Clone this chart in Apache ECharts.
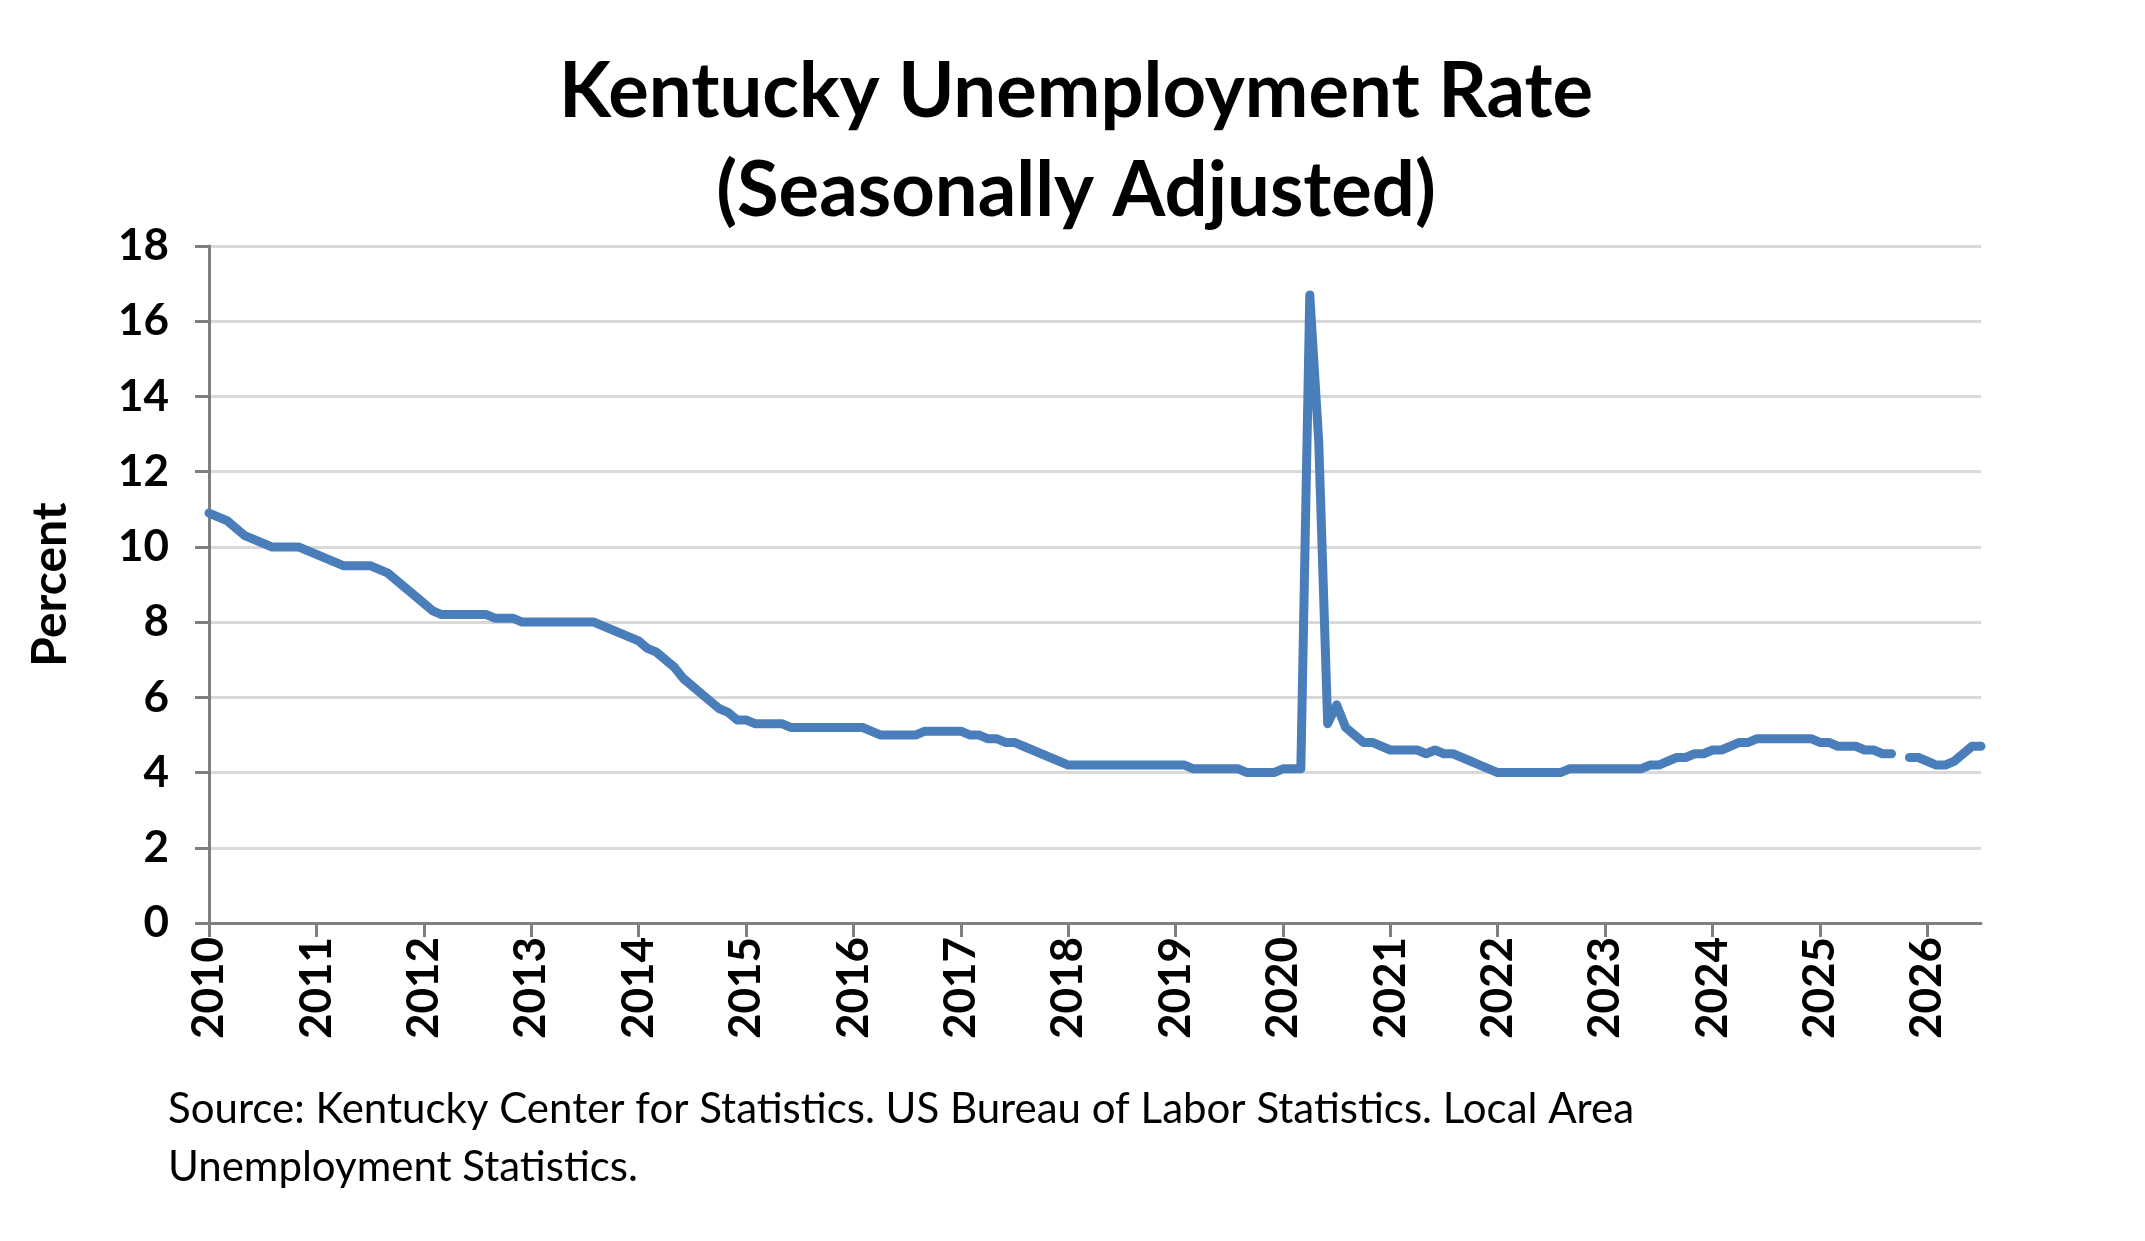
<!DOCTYPE html>
<html><head><meta charset="utf-8">
<script src="https://cdn.jsdelivr.net/npm/echarts@6/dist/echarts.min.js"></script>
<style>html,body{margin:0;background:#fff}#main{width:2145px;height:1241px}</style>
</head><body><div id="main"></div>
<script>
var years = [2010,2011,2012,2013,2014,2015,2016,2017,2018,2019,2020,2021,2022,2023,2024,2025,2026];
var r2010 = [10.9,10.8,10.7,10.5,10.3,10.2,10.1,10.0,10.0,10.0,10.0,9.9];
var r2011 = [9.8,9.7,9.6,9.5,9.5,9.5,9.5,9.4,9.3,9.1,8.9,8.7];
var r2012 = [8.5,8.3,8.2,8.2,8.2,8.2,8.2,8.2,8.1,8.1,8.1,8.0];
var r2013 = [8.0,8.0,8.0,8.0,8.0,8.0,8.0,8.0,7.9,7.8,7.7,7.6];
var r2014 = [7.5,7.3,7.2,7.0,6.8,6.5,6.3,6.1,5.9,5.7,5.6,5.4];
var r2015 = [5.4,5.3,5.3,5.3,5.3,5.2,5.2,5.2,5.2,5.2,5.2,5.2];
var r2016 = [5.2,5.2,5.1,5.0,5.0,5.0,5.0,5.0,5.1,5.1,5.1,5.1];
var r2017 = [5.1,5.0,5.0,4.9,4.9,4.8,4.8,4.7,4.6,4.5,4.4,4.3];
var r2018 = [4.2,4.2,4.2,4.2,4.2,4.2,4.2,4.2,4.2,4.2,4.2,4.2];
var r2019 = [4.2,4.2,4.1,4.1,4.1,4.1,4.1,4.1,4.0,4.0,4.0,4.0];
var r2020 = [4.1,4.1,4.1,16.7,12.8,5.3,5.8,5.2,5.0,4.8,4.8,4.7];
var r2021 = [4.6,4.6,4.6,4.6,4.5,4.6,4.5,4.5,4.4,4.3,4.2,4.1];
var r2022 = [4.0,4.0,4.0,4.0,4.0,4.0,4.0,4.0,4.1,4.1,4.1,4.1];
var r2023 = [4.1,4.1,4.1,4.1,4.1,4.2,4.2,4.3,4.4,4.4,4.5,4.5];
var r2024 = [4.6,4.6,4.7,4.8,4.8,4.9,4.9,4.9,4.9,4.9,4.9,4.9];
var r2025 = [4.8,4.8,4.7,4.7,4.7,4.6,4.6,4.5,4.5,null,4.4,4.4];
var r2026 = [4.3,4.2,4.2,4.3,4.5,4.7,4.7];

var rates = [].concat(r2010,r2011,r2012,r2013,r2014,r2015,r2016,r2017,r2018,r2019,r2020,r2021,r2022,r2023,r2024,r2025,r2026);
var months = [];
for (var i = 0; i < rates.length; i++) {
    months.push(i % 12 === 0 ? String(years[i / 12]) : '');
}

var myChart = echarts.init(document.getElementById('main'));
var font = 'Lato, "Open Sans", sans-serif';
var option = {
    animation: false,
    title: {
        text: 'Kentucky Unemployment Rate\n(Seasonally Adjusted)',
        left: 1071, top: 38, textAlign: 'center',
        textStyle: {fontFamily: font, fontSize: 76, fontWeight: 'bold', color: '#000', lineHeight: 99}
    },
    graphic: [{
        type: 'text', left: 168, top: 1080,
        style: {text: 'Source: Kentucky Center for Statistics. US Bureau of Labor Statistics. Local Area\nUnemployment Statistics.',
            font: '42px ' + font, fill: '#000', lineHeight: 58}
    }],
    grid: {left: 209, right: 164, top: 246, bottom: 318},
    xAxis: {
        type: 'category', data: months, boundaryGap: false,
        axisLine: {lineStyle: {color: '#7f7f7f', width: 3}},
        axisTick: {interval: 11, length: 14, lineStyle: {color: '#7f7f7f', width: 3}},
        axisLabel: {interval: 11, rotate: 90, fontFamily: font, fontSize: 44, fontWeight: 'bold', color: '#000', margin: 14}
    },
    yAxis: {
        type: 'value', min: 0, max: 18, interval: 2,
        name: 'Percent', nameLocation: 'middle', nameGap: 134, nameRotate: 90,
        nameTextStyle: {fontFamily: font, fontSize: 48, fontWeight: 'bold', color: '#000'},
        axisLine: {show: true, lineStyle: {color: '#7f7f7f', width: 3}},
        axisTick: {show: true, length: 14, lineStyle: {color: '#7f7f7f', width: 3}},
        axisLabel: {fontFamily: font, fontSize: 44, fontWeight: 'bold', color: '#000', margin: 40},
        splitLine: {lineStyle: {color: '#d9d9d9', width: 3}}
    },
    series: [{
        type: 'line', data: rates, showSymbol: false, connectNulls: false,
        lineStyle: {color: '#4a7ebb', width: 9, cap: 'round', join: 'round'}
    }]
};
option && myChart.setOption(option);
</script></body></html>
